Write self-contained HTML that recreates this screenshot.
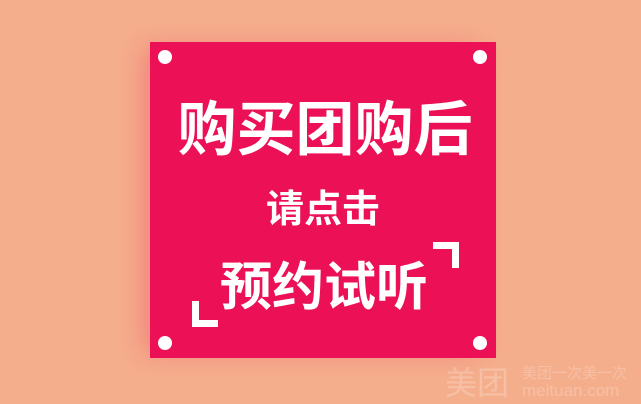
<!DOCTYPE html>
<html><head><meta charset="utf-8">
<style>
html,body{margin:0;padding:0;}
body{width:641px;height:401px;background:#F5AE8C;position:relative;overflow:hidden;font-family:"Liberation Sans","Noto Sans CJK SC",sans-serif;}
.abs{position:absolute;}
.card{left:150px;top:42px;width:346px;height:316px;background:#EC1157;box-shadow:-12px 0 24px -6px rgba(236,17,87,0.3);}
.dot{width:14px;height:14px;border-radius:50%;background:#fff;}
.t{color:#fff;font-weight:bold;white-space:nowrap;line-height:1;text-align:center;font-family:"Noto Sans CJK SC",sans-serif;}
.b{background:#fff;}
</style></head><body>
<div class="abs card"></div>
<div class="abs dot" style="left:158px;top:50px"></div>
<div class="abs dot" style="left:473px;top:50px"></div>
<div class="abs dot" style="left:158px;top:336px"></div>
<div class="abs dot" style="left:473px;top:336px"></div>
<div class="abs t" style="left:152px;width:346px;top:95px;font-size:59px">购买团购后</div>
<div class="abs t" style="left:150px;width:346px;top:187px;font-size:38px">请点击</div>
<div class="abs t" style="left:218px;width:212px;top:257px;font-size:52px">预约试听</div>
<div class="abs b" style="left:433px;top:242px;width:26px;height:7px"></div>
<div class="abs b" style="left:452px;top:242px;width:7px;height:26px"></div>
<div class="abs b" style="left:192px;top:301px;width:7px;height:26px"></div>
<div class="abs b" style="left:192px;top:320px;width:26px;height:7px"></div>
<div class="abs" style="left:445px;top:365px;color:rgba(255,255,255,0.22);font-size:32px;line-height:1;font-family:'Noto Sans CJK SC',sans-serif">美团</div>
<div class="abs" style="left:522px;top:365px;color:rgba(255,255,255,0.22);font-size:15px;line-height:1;font-family:'Noto Sans CJK SC',sans-serif;white-space:nowrap">美团一次美一次</div>
<div class="abs" style="left:522px;top:382px;color:rgba(255,255,255,0.22);font-size:17px;line-height:1;white-space:nowrap">meituan.com</div>
</body></html>
